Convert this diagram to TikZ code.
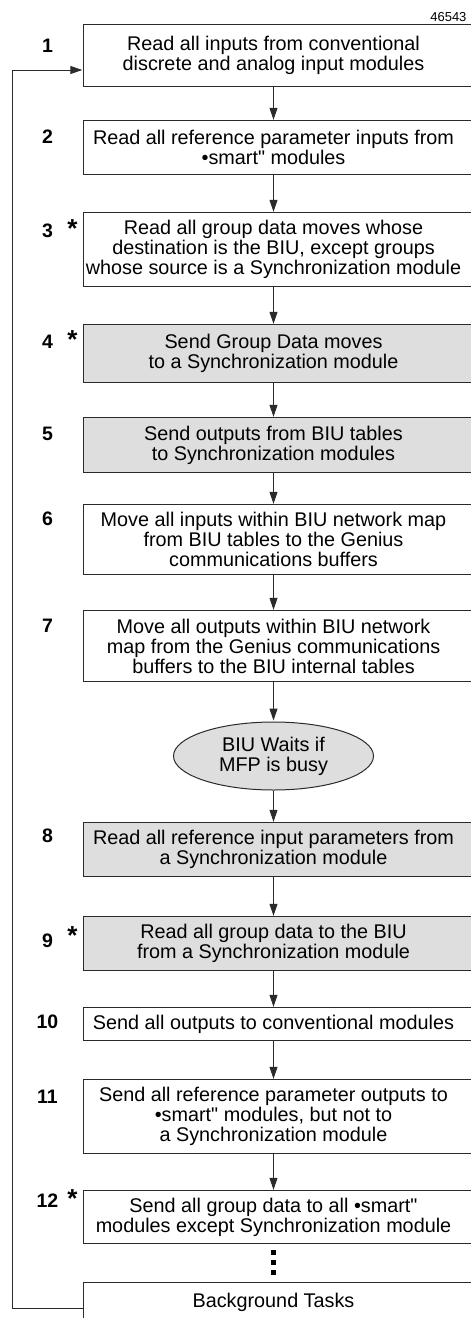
\documentclass[tikz,border=0pt]{standalone}
\usepackage{fontspec}
\setmainfont{Liberation Sans}
\newfontfamily\plainsans{Liberation Sans}
\usetikzlibrary{positioning,shapes.geometric,backgrounds,arrows.meta}
\definecolor{boxgray}{HTML}{DEDEDE}
\definecolor{linegray}{HTML}{2B2B2B}
\newcommand{\dq}{{\plainsans"}}

\begin{document}
\begin{tikzpicture}[x=1pt, y=-1pt,
    stepbox/.style={rectangle, inner sep=0pt, minimum width=380pt, align=center, font=\fontsize{19.8}{20}\selectfont},
    waitbox/.style={ellipse, draw=linegray, fill=boxgray, line width=1pt, inner sep=0pt, minimum width=200pt, minimum height=68pt, align=center, font=\fontsize{19.8}{20}\selectfont},
    stepnum/.style={anchor=base, font=\bfseries\fontsize{19.5}{19.5}\selectfont},
    stepstar/.style={anchor=base, font=\bfseries\fontsize{26}{26}\selectfont},
    frame/.style={draw=linegray, line width=1pt},
    arrowline/.style={-{Stealth[length=12pt, width=8pt, inset=0pt]}, line width=1pt, linegray, shorten >=1pt},
    dotline/.style={line width=5pt, dash pattern=on 5pt off 5pt, shorten <=7pt, shorten >=8pt}
  ]
    \useasboundingbox (0,0) rectangle (471,1318);

    % Figure number
    \node[anchor=base east, font=\fontsize{13}{13}\selectfont] (fignum) at (470,21) {46543};

    % Step 1
    \node[stepbox, minimum height=61pt] (s1) at (273.5,55.5) {Read all inputs from conventional\\discrete and analog input modules};
    \node[stepnum] (n1) at (47.5,52.5) {1};

    % Step 2
    \node[stepbox, minimum height=53pt] (s2) at (273.5,147.5) {Read all reference parameter inputs from\\•smart\dq{} modules};
    \node[stepnum] (n2) at (47.5,143) {2};

    % Step 3
    \node[stepbox, minimum height=73pt] (s3) at (273.5,249.5) {Read all group data moves whose\\destination is the BIU, except groups\\whose source is a Synchronization module};
    \node[stepnum] (n3) at (47.5,237) {3};
    \node[stepstar] (st3) at (72.5,237) {*};

    % Step 4
    \node[stepbox, minimum height=57pt] (s4) at (273.5,353.5) {Send Group Data moves\\to a Synchronization module};
    \node[stepnum] (n4) at (47.5,348) {4};
    \node[stepstar] (st4) at (72.5,348) {*};

    % Step 5
    \node[stepbox, minimum height=54pt] (s5) at (273.5,445) {Send outputs from BIU tables\\to Synchronization modules};
    \node[stepnum] (n5) at (47.5,440) {5};

    % Step 6
    \node[stepbox, minimum height=69pt] (s6) at (273.5,539.5) {Move all inputs within BIU network map\\from BIU tables to the Genius\\communications buffers};
    \node[stepnum] (n6) at (47.5,525) {6};

    % Step 7
    \node[stepbox, minimum height=70pt] (s7) at (273.5,646) {Move all outputs within BIU network\\map from the Genius communications\\buffers to the BIU internal tables};
    \node[stepnum] (n7) at (47.5,632) {7};

    % Wait state
    \node[waitbox] (wait) at (273.5,756) {BIU Waits if\\MFP is busy};

    % Step 8
    \node[stepbox, minimum height=53pt] (s8) at (273.5,849.5) {Read all reference input parameters from\\a Synchronization module};
    \node[stepnum] (n8) at (47.5,842) {8};

    % Step 9
    \node[stepbox, minimum height=53pt] (s9) at (273.5,943.5) {Read all group data to the BIU\\from a Synchronization module};
    \node[stepnum] (n9) at (47.5,947) {9};
    \node[stepstar] (st9) at (72.5,944) {*};

    % Step 10
    \node[stepbox, minimum height=32pt] (s10) at (273.5,1024) {Send all outputs to conventional modules};
    \node[stepnum] (n10) at (47.5,1028) {10};

    % Step 11
    \node[stepbox, minimum height=73pt] (s11) at (273.5,1116.5) {Send all reference parameter outputs to\\•smart\dq{} modules, but not to\\a Synchronization module};
    \node[stepnum] (n11) at (47.5,1103) {11};

    % Step 12
    \node[stepbox, minimum height=52pt] (s12) at (273.5,1217) {Send all group data to all •smart\dq\\modules except Synchronization module};
    \node[stepnum] (n12) at (47.5,1207) {12};
    \node[stepstar] (st12) at (72.5,1207) {*};

    % Background tasks
    \node[stepbox, minimum height=38pt] (bg) at (273.5,1302) {Background Tasks};

    % Frames (run off the right edge)
    \begin{scope}[on background layer]
      \clip (0,0) rectangle (471,1318);
      \foreach \s/\c in {s1/white,s2/white,s3/white,s4/boxgray,s5/boxgray,s6/white,s7/white,s8/boxgray,s9/boxgray,s10/white,s11/white,s12/white,bg/white}
        \draw[frame, fill=\c] (\s.north west) rectangle ([xshift=30pt]\s.south east);
    \end{scope}

    % Flow
    \foreach \a/\b in {s1/s2,s2/s3,s3/s4,s4/s5,s5/s6,s6/s7,s7/wait,wait/s8,s8/s9,s9/s10,s10/s11,s11/s12}
      \draw[arrowline] (\a) -- (\b);
    \draw[dotline] (s12) -- (bg);

    % Loop back
    \draw[arrowline] ([yshift=-6pt]bg.west) -- ++(-71,0) |- ([yshift=-14.5pt]s1.west);
  \end{tikzpicture}
\end{document}
